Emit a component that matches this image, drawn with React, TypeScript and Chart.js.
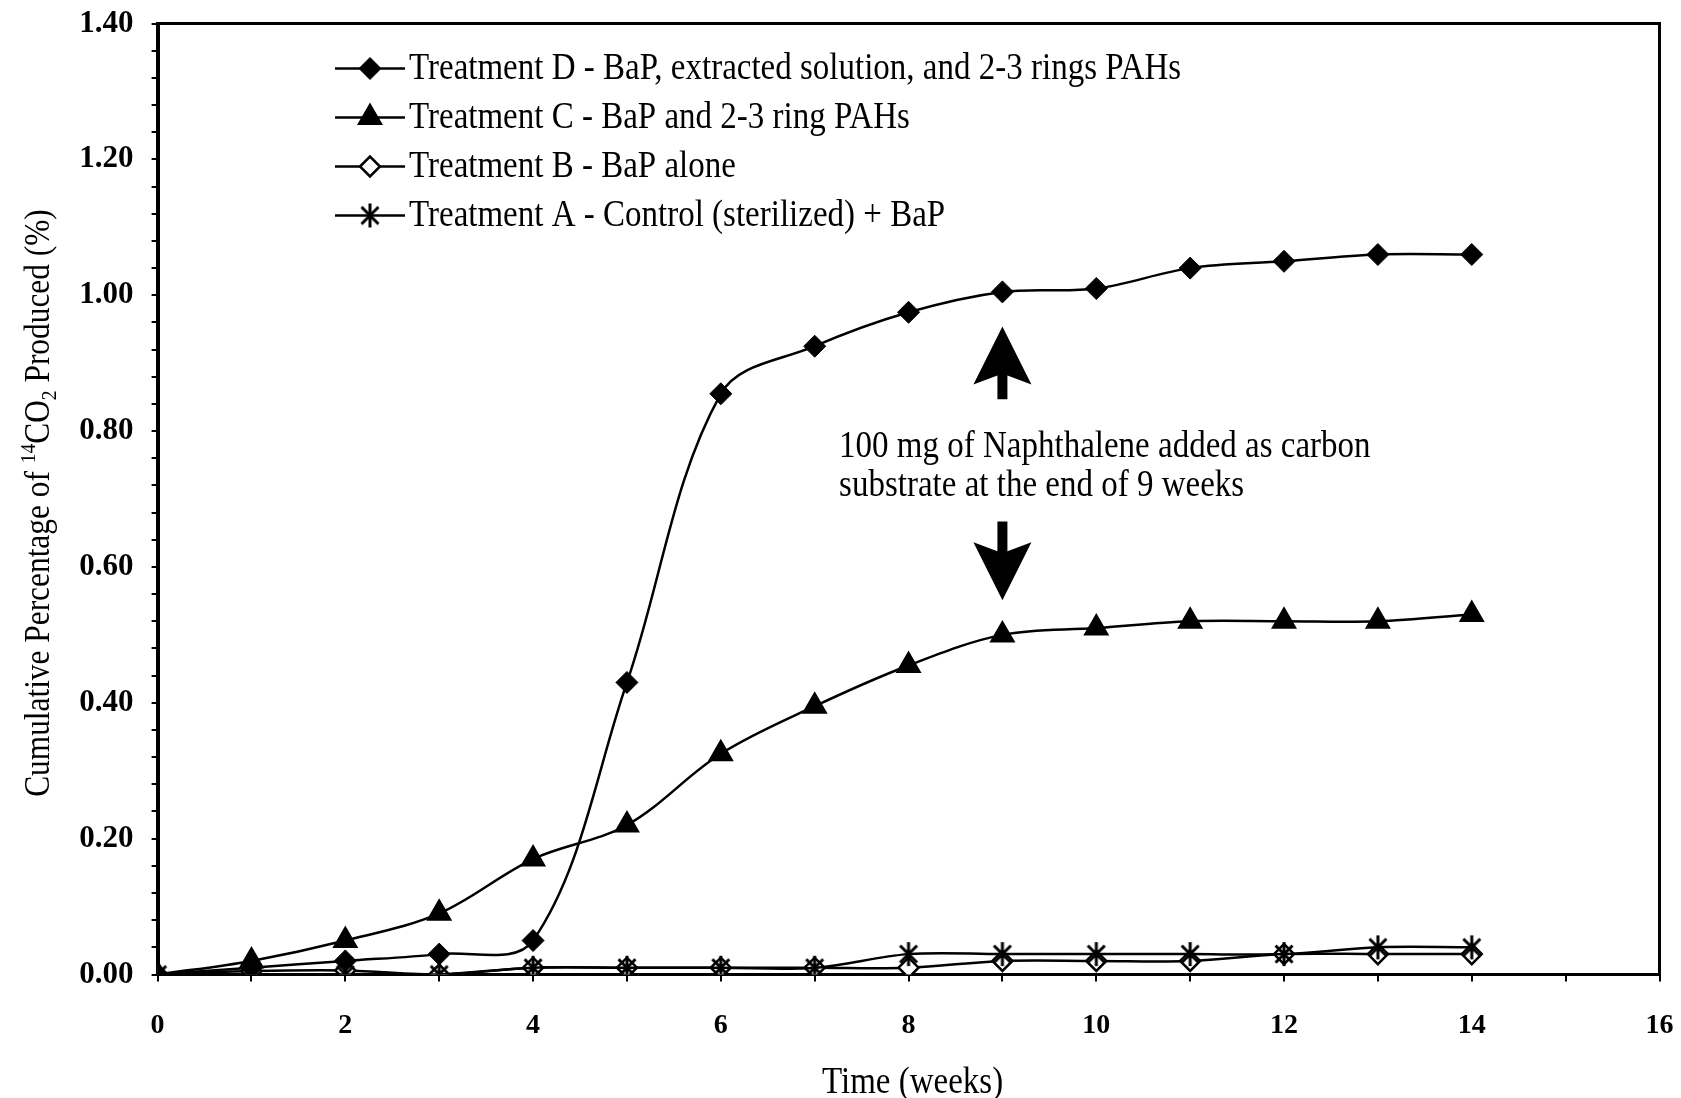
import React, { useEffect, useRef } from 'react';
import { Chart, registerables } from 'chart.js';
import { drawPoint } from 'chart.js/helpers';

Chart.register(...registerables);

// Sampling times (weeks) and cumulative 14CO2 evolved (%) per treatment
const weeks = [0, 1, 2, 3, 4, 5, 6, 7, 8, 9, 10, 11, 12, 13, 14];
const treatmentD = [0, 0.01, 0.02, 0.03, 0.05, 0.43, 0.855, 0.925, 0.975, 1.005, 1.01, 1.04, 1.05, 1.06, 1.06];
const treatmentC = [0, 0.02, 0.05, 0.09, 0.17, 0.22, 0.325, 0.395, 0.455, 0.5, 0.51, 0.52, 0.52, 0.52, 0.53];
const treatmentB = [0, 0.005, 0.006, 0.0, 0.01, 0.01, 0.01, 0.01, 0.01, 0.02, 0.02, 0.02, 0.03, 0.03, 0.03];
const treatmentA = [0, 0, 0, 0, 0.01, 0.01, 0.01, 0.01, 0.03, 0.03, 0.03, 0.03, 0.03, 0.04, 0.04];

const seriesLabels = [
  'Treatment D - BaP, extracted solution, and 2-3 rings PAHs',
  'Treatment C - BaP and 2-3 ring PAHs',
  'Treatment B - BaP alone',
  'Treatment A - Control (sterilized) + BaP',
];

const xTitle = 'Time (weeks)';
// y title pieces: [text, kind]
const yTitleParts: [string, 'n' | 'sup' | 'sub'][] = [
  ['Cumulative Percentage of ', 'n'],
  ['14', 'sup'],
  ['CO', 'n'],
  ['2', 'sub'],
  [' Produced (%)', 'n'],
];

const noteLines = ['100 mg of Naphthalene added as carbon', 'substrate at the end of 9 weeks'];
const noteWeek = 9;
const noteTextWeek = 7.26;
const noteTextValues = [0.777, 0.719];
const upArrow = { tip: 0.954, base: 0.847 };
const downArrow = { base: 0.667, tip: 0.551 };

const xMax = 16;
const yMax = 1.4;

const SERIF = '"Liberation Serif", "Times New Roman", serif';
const TEXT_STRETCH = 1.14;

function asteriskMarker(size: number, lineWidth: number): HTMLCanvasElement {
  const c = document.createElement('canvas');
  c.width = size;
  c.height = size;
  const g = c.getContext('2d')!;
  g.strokeStyle = '#000';
  g.lineWidth = lineWidth;
  const m = size / 2;
  const r = size / 2 - 1;
  const d = r * Math.SQRT1_2;
  g.beginPath();
  g.moveTo(m, m - r);
  g.lineTo(m, m + r);
  g.moveTo(m - d, m - d);
  g.lineTo(m + d, m + d);
  g.moveTo(m + d, m - d);
  g.lineTo(m - d, m + d);
  g.stroke();
  return c;
}

// text drawn slightly taller than wide, like the printed figure
function tallText(ctx: CanvasRenderingContext2D, text: string, x: number, y: number, align: CanvasTextAlign) {
  ctx.save();
  ctx.translate(x, y);
  ctx.scale(1, TEXT_STRETCH);
  ctx.textAlign = align;
  ctx.textBaseline = 'middle';
  ctx.fillText(text, 0, 0);
  ctx.restore();
}

function drawArrow(ctx: CanvasRenderingContext2D, x: number, tipY: number, baseY: number) {
  const dir = tipY < baseY ? -1 : 1; // -1 points up
  const headLen = 58;
  const halfW = 29;
  const notch = 9;
  const shaft = 5;
  const cornerY = tipY - dir * headLen;
  const notchY = cornerY + dir * notch;
  ctx.beginPath();
  ctx.moveTo(x, tipY);
  ctx.lineTo(x + halfW, cornerY);
  ctx.lineTo(x + shaft, notchY);
  ctx.lineTo(x + shaft, baseY);
  ctx.lineTo(x - shaft, baseY);
  ctx.lineTo(x - shaft, notchY);
  ctx.lineTo(x - halfW, cornerY);
  ctx.closePath();
  ctx.fill();
}

const decorPlugin = {
  id: 'decor',
  afterDraw(chart: any) {
    const { ctx, chartArea: a, scales } = chart;
    const xs = scales.x;
    const ys = scales.y;
    ctx.save();
    ctx.fillStyle = '#000';
    ctx.strokeStyle = '#000';

    // top and right frame of the plot area
    ctx.lineWidth = 3;
    ctx.beginPath();
    ctx.moveTo(a.left, a.top);
    ctx.lineTo(a.right, a.top);
    ctx.lineTo(a.right, a.bottom);
    ctx.stroke();

    // legend inside the plot area
    const rowY0 = 68.5;
    const rowGap = 49;
    const lineX1 = 335;
    const lineX2 = 405;
    const markX = 370;
    const textX = 409;
    chart.data.datasets.forEach((ds: any, i: number) => {
      const yy = rowY0 + i * rowGap;
      ctx.lineWidth = ds.borderWidth;
      ctx.strokeStyle = '#000';
      ctx.beginPath();
      ctx.moveTo(lineX1, yy);
      ctx.lineTo(lineX2, yy);
      ctx.stroke();
      ctx.fillStyle = ds.pointBackgroundColor;
      ctx.strokeStyle = ds.pointBorderColor;
      ctx.lineWidth = ds.pointBorderWidth;
      drawPoint(ctx, { pointStyle: ds.pointStyle, radius: ds.pointRadius, borderWidth: ds.pointBorderWidth, rotation: 0 }, markX, yy);
      ctx.fillStyle = '#000';
      ctx.font = `33px ${SERIF}`;
      tallText(ctx, ds.label, textX, yy + 1, 'left');
    });

    // naphthalene note with arrows
    ctx.fillStyle = '#000';
    const ax = xs.getPixelForValue(noteWeek);
    drawArrow(ctx, ax, ys.getPixelForValue(upArrow.tip), ys.getPixelForValue(upArrow.base));
    drawArrow(ctx, ax, ys.getPixelForValue(downArrow.tip), ys.getPixelForValue(downArrow.base));
    ctx.font = `33px ${SERIF}`;
    noteLines.forEach((t, i) => {
      tallText(ctx, t, xs.getPixelForValue(noteTextWeek), ys.getPixelForValue(noteTextValues[i]), 'left');
    });

    // x axis title
    ctx.font = `33px ${SERIF}`;
    tallText(ctx, xTitle, (a.left + a.right) / 2 + 4, 1083, 'center');

    // y axis title with superscript / subscript
    const main = 32;
    const small = 20;
    const fontFor = (k: string) => `${k === 'n' ? main : small}px ${SERIF}`;
    let total = 0;
    yTitleParts.forEach(([t, k]) => {
      ctx.font = fontFor(k);
      total += ctx.measureText(t).width;
    });
    ctx.translate(38, (a.top + a.bottom) / 2 + 4);
    ctx.rotate(-Math.PI / 2);
    ctx.scale(0.98, 1.1);
    ctx.textAlign = 'left';
    ctx.textBaseline = 'alphabetic';
    let cx = -total / 2;
    const base = 10;
    yTitleParts.forEach(([t, k]) => {
      ctx.font = fontFor(k);
      const dy = k === 'sup' ? -13 : k === 'sub' ? 6 : 0;
      ctx.fillText(t, cx, base + dy);
      cx += ctx.measureText(t).width;
    });

    ctx.restore();
  },
};

export default function App() {
  const ref = useRef<HTMLCanvasElement | null>(null);

  useEffect(() => {
    if (!ref.current) return;
    const star = asteriskMarker(26, 3);
    const pts = (vals: number[]) => weeks.map((w, i) => ({ x: w, y: vals[i] }));
    const common = {
      borderColor: '#000',
      borderWidth: 2.5,
      tension: 0.35,
      pointBorderColor: '#000',
      fill: false,
    };
    const chart = new Chart(ref.current, {
      type: 'line',
      data: {
        datasets: [
          { ...common, label: seriesLabels[0], data: pts(treatmentD), pointStyle: 'rectRot', pointRadius: 11, pointBorderWidth: 1, pointBackgroundColor: '#000', order: 1 },
          { ...common, label: seriesLabels[1], data: pts(treatmentC), pointStyle: 'triangle', pointRadius: 13, pointBorderWidth: 2, pointBackgroundColor: '#000', order: 2 },
          { ...common, label: seriesLabels[2], data: pts(treatmentB), pointStyle: 'rectRot', pointRadius: 10, pointBorderWidth: 2.5, pointBackgroundColor: '#fff', order: 4 },
          { ...common, label: seriesLabels[3], data: pts(treatmentA), pointStyle: star as any, pointRadius: 12, pointBorderWidth: 2, pointBackgroundColor: '#000', order: 3 },
        ],
      },
      options: {
        responsive: false,
        animation: false,
        devicePixelRatio: 1,
        layout: { padding: { top: 23.6, right: 21.5, left: 0, bottom: 0 } },
        plugins: { legend: { display: false }, tooltip: { enabled: false } },
        scales: {
          x: {
            type: 'linear',
            min: 0,
            max: xMax,
            afterFit: (s: any) => {
              s.height = 123.5;
              s.paddingLeft = 0;
              s.paddingRight = 0;
            },
            border: { display: true, color: '#000', width: 3 },
            grid: { drawOnChartArea: false, drawTicks: true, tickLength: 7, color: '#000', lineWidth: 2 },
            ticks: {
              stepSize: 1,
              autoSkip: false,
              maxRotation: 0,
              padding: 27,
              color: '#000',
              font: { family: SERIF, size: 28, weight: 'bold' },
              callback: (v: any) => (Number(v) % 2 === 0 ? String(v) : ''),
            },
          },
          y: {
            type: 'linear',
            min: 0,
            max: yMax,
            afterFit: (s: any) => {
              s.width = 157.6;
              s.paddingTop = 0;
              s.paddingBottom = 0;
            },
            border: { display: true, color: '#000', width: 4 },
            grid: { drawOnChartArea: false, drawTicks: true, tickLength: 6, color: '#000', lineWidth: 2 },
            ticks: {
              stepSize: 0.04,
              autoSkip: false,
              padding: 18,
              color: '#000',
              font: { family: SERIF, size: 31, weight: 'bold' },
              callback: (v: any) => {
                const n = Number(v);
                const k = n / 0.2;
                return Math.abs(k - Math.round(k)) < 1e-6 ? n.toFixed(2) : '';
              },
            },
          },
        },
      },
      plugins: [decorPlugin],
    });
    return () => chart.destroy();
  }, []);

  return (
    <div style={{ position: 'fixed', left: 0, top: 0, width: 1681, height: 1098, background: '#fff' }}>
      <canvas ref={ref} width={1681} height={1098} style={{ display: 'block' }} />
    </div>
  );
}
